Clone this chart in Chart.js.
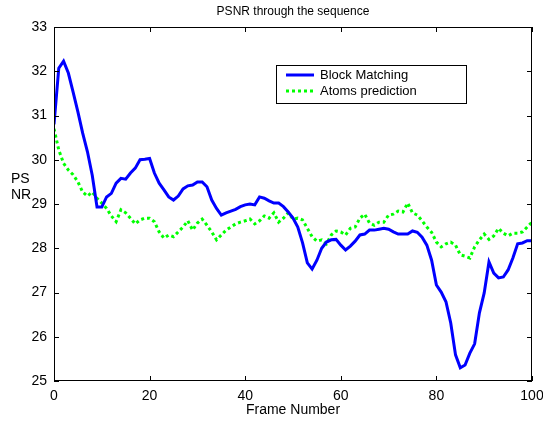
<!DOCTYPE html>
<html>
<head>
<meta charset="utf-8">
<script src="https://cdn.jsdelivr.net/npm/chart.js@4/dist/chart.umd.min.js"></script>
<style>
  html, body { margin: 0; padding: 0; background: #fff; }
  #c { display: block; }
</style>
</head>
<body>
<canvas id="c" width="543" height="421"></canvas>
<script>
// valores (frames 0..100)
const frames = Array.from({ length: 101 }, (_, i) => i);

const blockMatching = [
  30.8, 32.07, 32.23, 31.96, 31.53, 31.08, 30.6, 30.18, 29.65, 28.93,
  28.93, 29.16, 29.24, 29.47, 29.58, 29.56, 29.7, 29.81, 30.0, 30.01,
  30.03, 29.7, 29.47, 29.32, 29.16, 29.09, 29.18, 29.34, 29.41, 29.43,
  29.5, 29.5, 29.39, 29.09, 28.9, 28.75, 28.8, 28.84, 28.88, 28.94,
  28.98, 29.0, 28.98, 29.16, 29.13, 29.07, 29.02, 29.02, 28.94, 28.82,
  28.68, 28.48, 28.12, 27.67, 27.53, 27.73, 28.0, 28.14, 28.19, 28.2,
  28.07, 27.96, 28.05, 28.16, 28.3, 28.32, 28.41, 28.41, 28.43, 28.45,
  28.43, 28.37, 28.32, 28.32, 28.32, 28.39, 28.36, 28.25, 28.07, 27.73,
  27.17, 27.01, 26.79, 26.31, 25.59, 25.3, 25.36, 25.63, 25.84, 26.54,
  26.99, 27.69, 27.44, 27.33, 27.35, 27.51, 27.78, 28.1, 28.12, 28.17,
  28.17
];

const atomsPrediction = [
  30.7, 30.22, 29.92, 29.77, 29.66, 29.5, 29.27, 29.18, 29.27, 29.13,
  29.02, 28.9, 28.73, 28.6, 28.87, 28.8, 28.68, 28.55, 28.64, 28.68,
  28.68, 28.6, 28.37, 28.23, 28.3, 28.26, 28.37, 28.48, 28.62, 28.41,
  28.57, 28.66, 28.52, 28.37, 28.19, 28.3, 28.41, 28.48, 28.55, 28.59,
  28.62, 28.66, 28.55, 28.62, 28.73, 28.68, 28.8, 28.59, 28.68, 28.8,
  28.66, 28.68, 28.64, 28.45, 28.26, 28.16, 28.19, 28.1, 28.3, 28.39,
  28.37, 28.3, 28.45, 28.48, 28.68, 28.77, 28.57, 28.52, 28.59, 28.59,
  28.75, 28.77, 28.84, 28.82, 29.02, 28.8, 28.75, 28.62, 28.48, 28.36,
  28.14, 28.03, 28.1, 28.14, 28.07, 27.85, 27.82, 27.78, 28.03, 28.19,
  28.32, 28.2, 28.28, 28.45, 28.34, 28.28, 28.34, 28.34, 28.37, 28.48,
  28.59
];

const xTicks = [0, 20, 40, 60, 80, 100];
const yTicks = [25, 26, 27, 28, 29, 30, 31, 32, 33];

const FONTE = "'Liberation Sans', Arial, Helvetica, sans-serif";

// moldura, ticks internos, títulos e legenda no estilo MATLAB
const estiloMatlab = {
  id: "estiloMatlab",
  afterDraw(chart) {
    const { ctx, chartArea: a, scales } = chart;
    const sx = scales.x, sy = scales.y;
    ctx.save();
    ctx.strokeStyle = "#000";
    ctx.lineWidth = 1;
    ctx.strokeRect(a.left + 0.5, a.top + 0.5, a.right - a.left - 1, a.bottom - a.top - 1);

    ctx.beginPath();
    xTicks.forEach(v => {
      const px = Math.round(sx.getPixelForValue(v)) + 0.5;
      ctx.moveTo(px, a.bottom); ctx.lineTo(px, a.bottom - 5);
      ctx.moveTo(px, a.top); ctx.lineTo(px, a.top + 5);
    });
    yTicks.forEach(v => {
      const py = Math.round(sy.getPixelForValue(v)) + 0.5;
      ctx.moveTo(a.left, py); ctx.lineTo(a.left + 5, py);
      ctx.moveTo(a.right, py); ctx.lineTo(a.right - 5, py);
    });
    ctx.stroke();

    // títulos
    ctx.fillStyle = "#000";
    ctx.textAlign = "center";
    ctx.textBaseline = "middle";
    ctx.font = "12px " + FONTE;
    ctx.fillText("PSNR through the sequence", (a.left + a.right) / 2, 12);
    ctx.font = "14px " + FONTE;
    ctx.fillText("Frame Number", (a.left + a.right) / 2, 410);
    ctx.textAlign = "left";
    ctx.fillText("PS", 11, 179);
    ctx.fillText("NR", 11, 195);

    // legenda
    const lx = 276, ly = 65, lw = 190, lh = 38;
    ctx.fillStyle = "#fff";
    ctx.fillRect(lx, ly, lw, lh);
    ctx.strokeStyle = "#000";
    ctx.lineWidth = 1;
    ctx.strokeRect(lx + 0.5, ly + 0.5, lw, lh);
    chart.data.datasets.forEach((ds, i) => {
      const yy = ly + 10 + i * 16;
      ctx.beginPath();
      ctx.strokeStyle = ds.borderColor;
      ctx.lineWidth = ds.borderWidth;
      ctx.setLineDash(ds.borderDash || []);
      ctx.moveTo(lx + 10, yy);
      ctx.lineTo(lx + 38, yy);
      ctx.stroke();
      ctx.setLineDash([]);
      ctx.fillStyle = "#000";
      ctx.font = "13px " + FONTE;
      ctx.textBaseline = "middle";
      ctx.fillText(ds.label, lx + 44, yy);
    });
    ctx.restore();
  }
};

new Chart(document.getElementById("c"), {
  type: "line",
  data: {
    labels: frames,
    datasets: [
      {
        label: "Block Matching",
        data: blockMatching,
        borderColor: "#0000ff",
        borderWidth: 3,
        pointRadius: 0,
        tension: 0,
        fill: false
      },
      {
        label: "Atoms prediction",
        data: atomsPrediction,
        borderColor: "#00ff00",
        borderWidth: 3,
        borderDash: [3, 3],
        pointRadius: 0,
        tension: 0,
        fill: false
      }
    ]
  },
  options: {
    responsive: false,
    animation: false,
    layout: { padding: { left: 0, right: 11, top: 27, bottom: 0 } },
    plugins: {
      legend: { display: false },
      title: { display: false },
      tooltip: { enabled: false }
    },
    scales: {
      x: {
        type: "linear",
        min: 0,
        max: 100,
        afterFit: s => { s.height = 40; s.paddingLeft = 0; s.paddingRight = 0; },
        afterBuildTicks: s => { s.ticks = xTicks.map(v => ({ value: v })); },
        grid: { display: false, drawTicks: false },
        border: { display: false },
        ticks: { color: "#000", font: { family: FONTE, size: 14 }, padding: 7, maxRotation: 0 }
      },
      y: {
        min: 25,
        max: 33,
        afterFit: s => { s.width = 54; s.paddingTop = 0; s.paddingBottom = 0; },
        afterBuildTicks: s => { s.ticks = yTicks.map(v => ({ value: v })); },
        grid: { display: false, drawTicks: false },
        border: { display: false },
        ticks: { color: "#000", font: { family: FONTE, size: 14 }, padding: 7 }
      }
    }
  },
  plugins: [estiloMatlab]
});
</script>
</body>
</html>
